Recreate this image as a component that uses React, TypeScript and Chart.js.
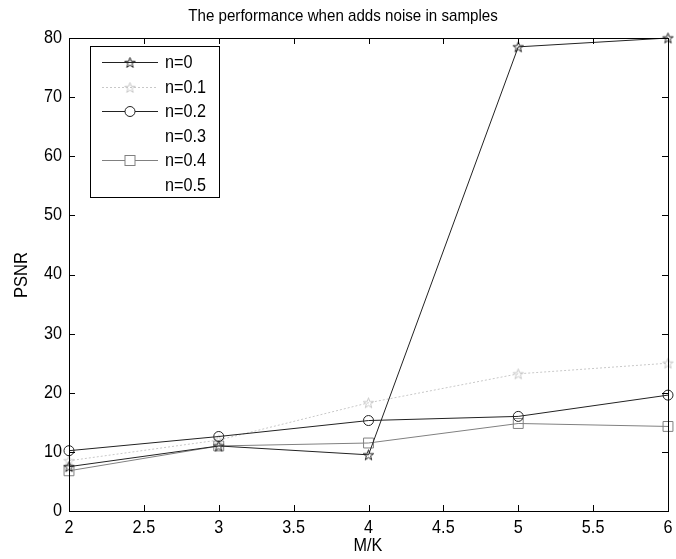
import React, { useEffect, useRef } from "react";
import { Chart, registerables } from "chart.js";

Chart.register(...registerables);

const TITLE = "The performance when adds noise in samples";
const X_LABEL = "M/K";
const Y_LABEL = "PSNR";
const mk = [2, 3, 4, 5, 6];
const n0 = [7.5, 11, 9.5, 78.5, 80];
const n01 = [8.5, 12, 18.3, 23.2, 25];
const n02 = [10.2, 12.6, 15.3, 16, 19.6];
const n03 = [9, 11.5, 12, 13.5, 15];
const n04 = [6.8, 11, 11.5, 14.8, 14.3];
const n05 = [7, 10, 10.5, 12, 13];
const seriesNames = ["n=0", "n=0.1", "n=0.2", "n=0.3", "n=0.4", "n=0.5"];
const xTicks = [2, 2.5, 3, 3.5, 4, 4.5, 5, 5.5, 6];
const yTicks = [0, 10, 20, 30, 40, 50, 60, 70, 80];

const FONT = "Liberation Sans, Arial, sans-serif";

function pentagram(color: string, size: number) {
  const c = document.createElement("canvas");
  c.width = size;
  c.height = size;
  const ctx = c.getContext("2d")!;
  const cx = size / 2, cy = size / 2 + 0.5;
  const R = size / 2 - 1, r = R * 0.4;
  ctx.beginPath();
  for (let i = 0; i < 10; i++) {
    const a = -Math.PI / 2 + (i * Math.PI) / 5;
    const rr = i % 2 === 0 ? R : r;
    const px = cx + rr * Math.cos(a), py = cy + rr * Math.sin(a);
    if (i === 0) ctx.moveTo(px, py); else ctx.lineTo(px, py);
  }
  ctx.closePath();
  ctx.strokeStyle = color;
  ctx.lineWidth = 1;
  ctx.stroke();
  return c;
}

function txt(ctx: CanvasRenderingContext2D, s: string, x: number, y: number, size: number, sx: number, align: CanvasTextAlign, rot = 0) {
  ctx.save();
  ctx.translate(x, y);
  if (rot) ctx.rotate(rot);
  ctx.scale(sx, 1);
  ctx.font = `${size}px ${FONT}`;
  ctx.textAlign = align;
  ctx.textBaseline = "middle";
  ctx.fillStyle = "#000";
  ctx.fillText(s, 0, 0);
  ctx.restore();
}

export default function App() {
  const ref = useRef<HTMLCanvasElement>(null);
  useEffect(() => {
    document.body.style.margin = "0";
    const star0 = pentagram("#222", 13);
    const star1 = pentagram("#c8c8c8", 13);
    const toPts = (ys: number[]) => mk.map((x, i) => ({ x, y: ys[i] }));
    const datasets: any[] = [
      { label: seriesNames[0], data: toPts(n0), borderColor: "#222", pointStyle: star0, pointRadius: 6, order: 1 },
      { label: seriesNames[1], data: toPts(n01), borderColor: "#c8c8c8", borderDash: [2, 2], pointStyle: star1, pointRadius: 6, order: 3 },
      { label: seriesNames[2], data: toPts(n02), borderColor: "#222", pointStyle: "circle", pointRadius: 5, order: 2 },
      { label: seriesNames[3], data: toPts(n03), borderColor: "rgba(255,255,255,0)", pointRadius: 0, order: 10 },
      { label: seriesNames[4], data: toPts(n04), borderColor: "#808080", pointStyle: "rect", pointRadius: 7, order: 4 },
      { label: seriesNames[5], data: toPts(n05), borderColor: "rgba(255,255,255,0)", pointRadius: 0, order: 11 },
    ].map((d) => ({
      borderWidth: 1,
      pointBackgroundColor: "rgba(0,0,0,0)",
      pointBorderWidth: 1,
      pointBorderColor: d.borderColor,
      tension: 0,
      fill: false,
      clip: false,
      ...d,
    }));

    const decor = {
      id: "decor",
      afterDraw(chart: any) {
        const ctx = chart.ctx as CanvasRenderingContext2D;
        const a = chart.chartArea;
        const xs = chart.scales.x, ys = chart.scales.y;
        ctx.save();
        ctx.strokeStyle = "#000";
        ctx.lineWidth = 1;
        ctx.strokeRect(Math.round(a.left) + 0.5, Math.round(a.top) + 0.5, Math.round(a.right - a.left), Math.round(a.bottom - a.top));
        ctx.beginPath();
        const tl = 6;
        xTicks.forEach((v) => {
          const px = Math.round(xs.getPixelForValue(v)) + 0.5;
          ctx.moveTo(px, a.bottom); ctx.lineTo(px, a.bottom - tl);
          ctx.moveTo(px, a.top); ctx.lineTo(px, a.top + tl);
        });
        yTicks.forEach((v) => {
          const py = Math.round(ys.getPixelForValue(v)) + 0.5;
          ctx.moveTo(a.left, py); ctx.lineTo(a.left + tl, py);
          ctx.moveTo(a.right, py); ctx.lineTo(a.right - tl, py);
        });
        ctx.stroke();

        xTicks.forEach((v) => txt(ctx, String(v), xs.getPixelForValue(v), a.bottom + 17, 18, 0.9, "center"));
        yTicks.forEach((v) => txt(ctx, String(v), a.left - 7, ys.getPixelForValue(v), 18, 0.9, "right"));

        txt(ctx, TITLE, 343, 16, 17, 0.89, "center");
        txt(ctx, X_LABEL, 368, 546, 18, 0.9, "center");
        txt(ctx, Y_LABEL, 22, 275, 18, 0.92, "center", -Math.PI / 2);

        // legend
        const bx = 90, by = 46, bw = 129, bh = 151;
        ctx.fillStyle = "#fff";
        ctx.fillRect(bx, by, bw, bh);
        ctx.strokeStyle = "#000";
        ctx.strokeRect(bx + 0.5, by + 0.5, bw, bh);
        chart.data.datasets.forEach((d: any, i: number) => {
          const y = Math.round(62 + i * 24.5) + 0.5;
          ctx.save();
          ctx.strokeStyle = d.borderColor;
          ctx.lineWidth = 1;
          ctx.setLineDash(d.borderDash || []);
          ctx.beginPath();
          ctx.moveTo(102, y); ctx.lineTo(158, y);
          ctx.stroke();
          ctx.setLineDash([]);
          if (d.pointRadius > 0) {
            if (d.pointStyle instanceof HTMLCanvasElement) {
              ctx.drawImage(d.pointStyle, 130 - d.pointStyle.width / 2, y - d.pointStyle.height / 2);
            } else if (d.pointStyle === "circle") {
              ctx.fillStyle = "#fff";
              ctx.beginPath(); ctx.arc(130, y, 5, 0, Math.PI * 2); ctx.fill(); ctx.stroke();
            } else if (d.pointStyle === "rect") {
              ctx.fillStyle = "#fff";
              ctx.fillRect(125, y - 5, 10, 10);
              ctx.strokeRect(125, y - 5, 10, 10);
            }
          }
          ctx.restore();
          txt(ctx, d.label, 165, y + 1, 18, 0.9, "left");
        });
        ctx.restore();
      },
    };

    const chart = new Chart(ref.current!, {
      type: "line",
      data: { datasets },
      options: {
        animation: false,
        responsive: false,
        layout: { padding: { top: 38, right: 6, left: 0, bottom: 0 } },
        plugins: { legend: { display: false }, title: { display: false }, tooltip: { enabled: false } },
        scales: {
          x: {
            type: "linear",
            min: 2,
            max: 6,
            afterBuildTicks: (s: any) => { s.ticks = xTicks.map((v) => ({ value: v })); },
            afterFit: (s: any) => { s.height = 48; s.paddingLeft = 0; s.paddingRight = 0; },
            grid: { display: false, drawTicks: false },
            border: { display: false },
            ticks: { display: false },
          },
          y: {
            type: "linear",
            min: 0,
            max: 80,
            afterBuildTicks: (s: any) => { s.ticks = yTicks.map((v) => ({ value: v })); },
            afterFit: (s: any) => { s.width = 69; s.paddingTop = 0; s.paddingBottom = 0; },
            grid: { display: false, drawTicks: false },
            border: { display: false },
            ticks: { display: false },
          },
        },
      },
      plugins: [decor],
    });
    return () => chart.destroy();
  }, []);
  return <canvas ref={ref} width={676} height={559} style={{ display: "block" }} />;
}
